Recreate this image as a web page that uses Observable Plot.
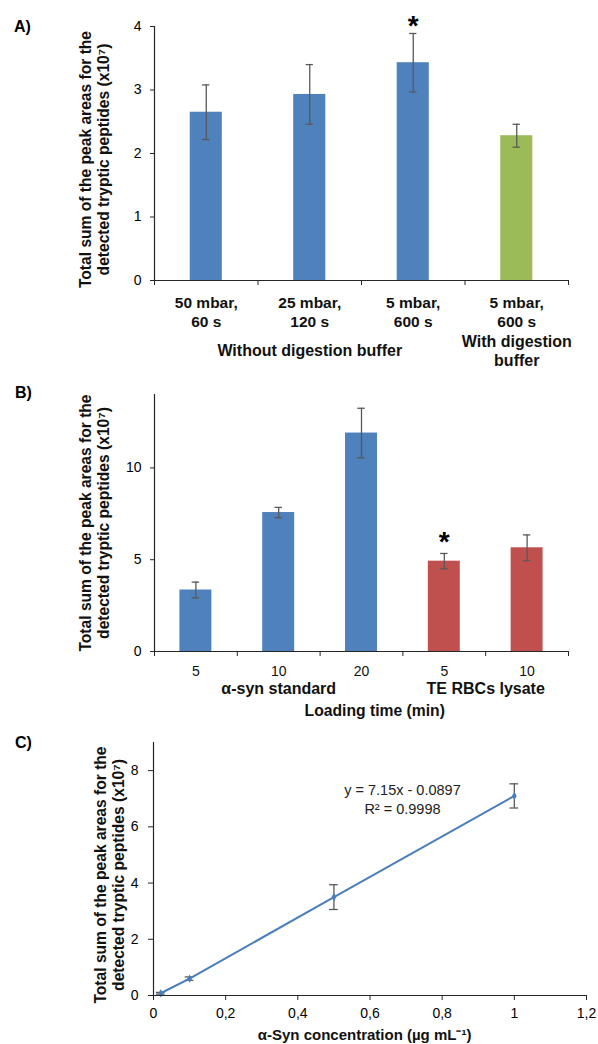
<!DOCTYPE html>
<html><head><meta charset="utf-8">
<script src="https://cdn.jsdelivr.net/npm/d3@7"></script>
<script src="https://cdn.jsdelivr.net/npm/@observablehq/plot@0.6"></script>
<style>
body{margin:0;background:#fff;}
#wrap{position:relative;width:598px;height:1044px;font-family:Arial,"Liberation Sans",sans-serif;background:#fff;overflow:hidden;}
.panel{position:absolute;left:0;}
.lab{position:absolute;font-weight:bold;font-size:16px;line-height:16px;color:#000;}
</style></head><body><div id="wrap"></div>
<script>
// ---------- Panel A ----------
const aCategories = ["50 mbar,\n60 s", "25 mbar,\n120 s", "5 mbar,\n600 s", "5 mbar,\n600 s"];
const aValues = [2.65, 2.93, 3.43, 2.28];
const aErrors = [0.43, 0.47, 0.46, 0.18];
const aGroups = ["Without digestion buffer", "Without digestion buffer", "Without digestion buffer", "With digestion\nbuffer"];
const aColors = ["#4f81bd", "#4f81bd", "#4f81bd", "#9bbb59"];
const aSignificant = [false, false, true, false];
const aYTicks = [0, 1, 2, 3, 4];

// ---------- Panel B ----------
const bLoadingTimes = ["5", "10", "20", "5", "10"];
const bValues = [3.35, 7.57, 11.9, 4.92, 5.65];
const bErrors = [0.43, 0.28, 1.35, 0.42, 0.70];
const bGroups = ["α-syn standard", "α-syn standard", "α-syn standard", "TE RBCs lysate", "TE RBCs lysate"];
const bColors = ["#4f81bd", "#4f81bd", "#4f81bd", "#c0504d", "#c0504d"];
const bSignificant = [false, false, false, true, false];
const bYTicks = [0, 5, 10];

// ---------- Panel C ----------
const cConcentrations = [0.02, 0.1, 0.5, 1];
const cValues = [0.08, 0.6, 3.5, 7.1];
const cErrors = [0.03, 0.06, 0.44, 0.43];
const cXTicks = [0, 0.2, 0.4, 0.6, 0.8, 1, 1.2];
const cYTicks = [0, 2, 4, 6, 8];
const cEquation = "y = 7.15x - 0.0897\nR² = 0.9998";

const yTitle = "Total sum of the peak areas for the\ndetected tryptic peptides (x10⁷)";
const FONT = 'Arial, "Liberation Sans", sans-serif';
const AXIS = "#262626";
const ERR = "#595959";

function rows(values, errors, colors, sig, labels) {
  return values.map((v, i) => ({i, v, e: errors[i], color: colors[i], sig: sig[i], label: labels[i]}));
}
function groupRows(groups) {
  return d3.groups(groups.map((g, i) => ({g, i})), d => d.g)
    .map(([g, r]) => ({g, x: d3.mean(r, d => d.i) + 0.5}));
}

function barPanel({data, groups, ymax, yTicks, height, marginTop, marginBottom, half, cap,
                   catBold, catSize, catDy, groupDy, titleDx, titleDy, starDy, extra}) {
  const n = data.length;
  return Plot.plot({
    width: 598, height, marginLeft: 154, marginRight: 30, marginTop, marginBottom,
    style: {fontFamily: FONT, fontSize: "14px", color: "#000", background: "none", overflow: "visible"},
    x: {domain: [0, n], axis: null},
    y: {domain: [0, ymax], axis: null},
    color: {type: "identity"},
    marks: [
      Plot.rectY(data, {x1: d => d.i + 0.5 - half, x2: d => d.i + 0.5 + half, y1: 0, y2: "v", fill: "color"}),
      Plot.ruleX(data, {x: d => d.i + 0.5, y1: d => d.v - d.e, y2: d => d.v + d.e, stroke: ERR, strokeWidth: 1.3}),
      Plot.ruleY(data, {x1: d => d.i + 0.5 - cap, x2: d => d.i + 0.5 + cap, y: d => d.v + d.e, stroke: ERR, strokeWidth: 1.3}),
      Plot.ruleY(data, {x1: d => d.i + 0.5 - cap, x2: d => d.i + 0.5 + cap, y: d => d.v - d.e, stroke: ERR, strokeWidth: 1.3}),
      Plot.text(data.filter(d => d.sig), {x: d => d.i + 0.5, y: d => d.v + d.e, text: () => "*", fontSize: 28, fontWeight: "bold", lineAnchor: "top", dy: starDy, fill: "#000"}),
      Plot.ruleX([0], {stroke: AXIS, strokeWidth: 1.2}),
      Plot.ruleY([0], {stroke: AXIS, strokeWidth: 1.2}),
      Plot.axisY({ticks: yTicks, tickSize: 4, tickPadding: 9, fontSize: 14, stroke: AXIS, label: null, tickFormat: d => String(d)}),
      Plot.axisX({ticks: d3.range(0, n + 1), tickSize: 5, tickFormat: () => "", stroke: AXIS, label: null}),
      Plot.text(data, {x: d => d.i + 0.5, frameAnchor: "bottom", text: "label", lineAnchor: "middle", dy: catDy,
        fontSize: catSize, fontWeight: catBold ? "bold" : "normal", lineHeight: 1.2, fill: "#111"}),
      Plot.text(groups, {x: "x", frameAnchor: "bottom", text: "g", lineAnchor: "middle", dy: groupDy,
        fontSize: 16, fontWeight: "bold", lineHeight: 1.15, fill: "#111"}),
      Plot.text([yTitle], {frameAnchor: "left", textAnchor: "middle", text: d => d, rotate: -90, lineAnchor: "middle", dx: titleDx, dy: titleDy,
        fontSize: 15.6, fontWeight: "bold", lineHeight: 1.15, fill: "#111"}),
      ...(extra || [])
    ]
  });
}

const wrap = document.getElementById("wrap");
function place(node, top) {
  node.classList.add("panel");
  node.style.top = top + "px";
  wrap.appendChild(node);
}
function label(txt, left, top) {
  const d = document.createElement("div");
  d.className = "lab"; d.textContent = txt;
  d.style.left = left + "px"; d.style.top = top + "px";
  wrap.appendChild(d);
}

// Panel A
const A = rows(aValues, aErrors, aColors, aSignificant, aCategories);
place(barPanel({
  data: A, groups: groupRows(aGroups), ymax: 4, yTicks: aYTicks,
  height: 365, marginTop: 26, marginBottom: 85, half: 0.155, cap: 0.035,
  catBold: true, catSize: 15.5, catDy: 31, groupDy: 70, titleDx: -60, titleDy: 6, starDy: -18
}), 0);

// Panel B
const B = rows(bValues, bErrors, bColors, bSignificant, bLoadingTimes);
place(barPanel({
  data: B, groups: groupRows(bGroups), ymax: 14, yTicks: bYTicks,
  height: 355, marginTop: 29, marginBottom: 69, half: 0.193, cap: 0.045,
  catBold: false, catSize: 14, catDy: 19, groupDy: 37, titleDx: -60, titleDy: 0, starDy: -22,
  extra: [Plot.text(["Loading time (min)"], {x: 2.66, frameAnchor: "bottom", text: d => d, lineAnchor: "middle", dy: 59,
    fontSize: 15.7, fontWeight: "bold", fill: "#111"})]
}), 365);

// Panel C
const C = cConcentrations.map((x, i) => ({x, v: cValues[i], e: cErrors[i]}));
place(Plot.plot({
  width: 598, height: 324, marginLeft: 153, marginRight: 12, marginTop: 22, marginBottom: 49,
  style: {fontFamily: FONT, fontSize: "14px", color: "#000", background: "none", overflow: "visible"},
  x: {domain: [0, 1.2], axis: null},
  y: {domain: [0, 9], axis: null},
  marks: [
    Plot.ruleX(C, {x: "x", y1: d => d.v - d.e, y2: d => d.v + d.e, stroke: ERR, strokeWidth: 1.3}),
    Plot.ruleY(C, {x1: d => d.x - 0.012, x2: d => d.x + 0.012, y: d => d.v + d.e, stroke: ERR, strokeWidth: 1.3}),
    Plot.ruleY(C, {x1: d => d.x - 0.012, x2: d => d.x + 0.012, y: d => d.v - d.e, stroke: ERR, strokeWidth: 1.3}),
    Plot.line(C, {x: "x", y: "v", stroke: "#4a7ebb", strokeWidth: 2}),
    Plot.dot(C, {x: "x", y: "v", symbol: "diamond", r: 2.5, fill: "#4a7ebb"}),
    Plot.ruleX([0], {stroke: AXIS, strokeWidth: 1.2}),
    Plot.ruleY([0], {stroke: AXIS, strokeWidth: 1.2}),
    Plot.axisY({ticks: cYTicks, tickSize: 5, tickPadding: 10, fontSize: 14, stroke: AXIS, label: null, tickFormat: d => String(d)}),
    Plot.axisX({ticks: cXTicks, tickSize: 5, tickPadding: 8, fontSize: 14, stroke: AXIS, label: null,
      tickFormat: d => String(d).replace(".", ",")}),
    Plot.text([cEquation], {x: 0.69, y: 7.0, text: d => d, lineAnchor: "middle", fontSize: 14.5, lineHeight: 1.25, fill: "#222"}),
    Plot.text(["α-Syn concentration (µg mL⁻¹)"], {x: 0.585, frameAnchor: "bottom", text: d => d, lineAnchor: "middle", dy: 40,
      fontSize: 15, fontWeight: "bold", fill: "#111"}),
    Plot.text([yTitle], {frameAnchor: "left", textAnchor: "middle", text: d => d, rotate: -90, lineAnchor: "middle", dx: -44, dy: 6,
      fontSize: 15.6, fontWeight: "bold", lineHeight: 1.15, fill: "#111"})
  ]
}), 720);

label("A)", 14, 19);
label("B)", 15, 385);
label("C)", 15, 735);
</script>
</body></html>
